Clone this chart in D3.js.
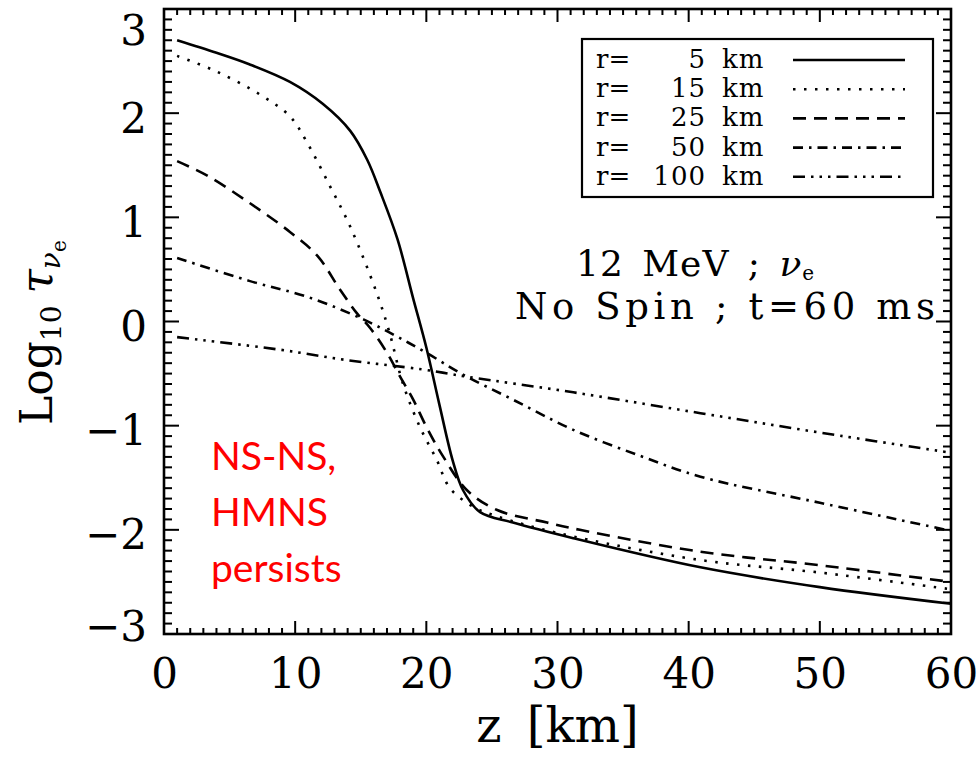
<!DOCTYPE html>
<html>
<head>
<meta charset="utf-8">
<script src="https://cdn.jsdelivr.net/npm/d3@7"></script>
<style>
  body { margin: 0; background: #fff; }
  svg { display: block; }
</style>
</head>
<body>
<div id="container"></div>
<script>
// optical depth curves (z in km, log10 tau)
const z5   = [1, 4, 6.5, 9.6, 12.1, 14.2, 15.5, 16.5, 17.8, 19.0, 20.0, 21.0, 22.0, 22.8, 24.1, 26.6, 31.2, 40.9, 50, 60];
const v5   = [2.70, 2.58, 2.47, 2.30, 2.09, 1.83, 1.55, 1.24, 0.79, 0.22, -0.25, -0.80, -1.33, -1.62, -1.83, -1.93, -2.08, -2.36, -2.55, -2.71];
const z15  = [1, 4, 7.3, 9.6, 10.9, 12.65, 14.2, 16.2, 17.2, 18.2, 19.5, 20.8, 21.8, 23.6, 25.4, 30, 40.9, 50, 60];
const v15  = [2.55, 2.40, 2.18, 1.97, 1.72, 1.30, 0.91, 0.28, -0.11, -0.59, -1.01, -1.33, -1.60, -1.78, -1.87, -2.03, -2.29, -2.41, -2.57];
const z25  = [1, 3.3, 6.5, 9.6, 11.7, 13.4, 14.7, 15.7, 17.0, 18.0, 19.0, 20.0, 21.3, 23.1, 25.4, 29.2, 31.7, 40.9, 50, 60];
const v25  = [1.54, 1.40, 1.14, 0.86, 0.63, 0.31, 0.08, -0.06, -0.30, -0.53, -0.75, -1.01, -1.30, -1.62, -1.81, -1.93, -2.00, -2.21, -2.34, -2.50];
const z50  = [1, 6.5, 11.1, 15.2, 17.7, 20.0, 22.8, 26.6, 31.2, 36.3, 40.9, 50, 60];
const v50  = [0.61, 0.39, 0.23, 0.02, -0.14, -0.30, -0.51, -0.75, -1.04, -1.29, -1.49, -1.74, -2.01];
const z100 = [1, 8.8, 13.9, 19.7, 23.1, 31.2, 40.9, 50.2, 60];
const v100 = [-0.15, -0.27, -0.37, -0.46, -0.53, -0.68, -0.88, -1.07, -1.26];

const radii = ["5", "15", "25", "50", "100"];
const dashes = [null, "2.5 8.5", "13 8", "10 6 2.5 6", "12 6 2.5 6 2.5 6 2.5 6"];

const xTicks = [0, 10, 20, 30, 40, 50, 60];
const yTicks = [-3, -2, -1, 0, 1, 2, 3];

const series = [
  {r: radii[0], z: z5, v: v5},
  {r: radii[1], z: z15, v: v15},
  {r: radii[2], z: z25, v: v25},
  {r: radii[3], z: z50, v: v50},
  {r: radii[4], z: z100, v: v100}
];
series.forEach((s, i) => {
  s.dash = dashes[i];
  s.points = s.z.map((z, j) => ({z: z, v: s.v[j]}));
});

let w = 979;
let h = 761;
let padL = 164, padR = 951, padT = 9, padB = 634;
const serif = "'DejaVu Serif', serif";

let viz = d3.select("#container")
  .append("svg")
  .attr("width", w)
  .attr("height", h);

let xScale = d3.scaleLinear().domain([0, 60]).range([padL, padR]);
let yScale = d3.scaleLinear().domain([-3, 3]).range([padB, padT]);

// curves
let curveGen = d3.line()
  .x(d => xScale(d.z))
  .y(d => yScale(d.v))
  .curve(d3.curveCatmullRom.alpha(0.5));

let graphGroup = viz.append("g").classed("graphGroup", true);
graphGroup.selectAll(".curve")
  .data(series)
  .enter()
  .append("path")
  .classed("curve", true)
  .attr("d", d => curveGen(d.points))
  .attr("fill", "none")
  .attr("stroke", "#000")
  .attr("stroke-width", 2.6)
  .attr("stroke-dasharray", d => d.dash);

// labels through d3 axes (their own lines dropped)
let xAxisGroup = viz.append("g").attr("transform", `translate(0,${padB})`)
  .call(d3.axisBottom(xScale).tickValues(xTicks).tickSize(0));
xAxisGroup.select(".domain").remove();
xAxisGroup.selectAll("line").remove();
xAxisGroup.selectAll("text")
  .attr("y", 54).attr("dy", 0)
  .attr("font-family", serif).attr("font-size", 42).attr("fill", "#000");

let yAxisGroup = viz.append("g").attr("transform", `translate(${padL},0)`)
  .call(d3.axisLeft(yScale).tickValues(yTicks).tickSize(0).tickPadding(17)
    .tickFormat(d => d < 0 ? "\u2212" + (-d) : d));
yAxisGroup.select(".domain").remove();
yAxisGroup.selectAll("line").remove();
yAxisGroup.selectAll("text")
  .attr("dy", d => d === 3 ? "0.85em" : d === -3 ? "0.15em" : "0.45em")
  .attr("font-family", serif).attr("font-size", 42).attr("fill", "#000");

// frame
viz.append("rect")
  .attr("x", padL).attr("y", padT)
  .attr("width", padR - padL).attr("height", padB - padT)
  .attr("fill", "none").attr("stroke", "#000").attr("stroke-width", 2.6);

// inward marks on all four sides: minor every 1 km / 0.1,
// drawn as small filled bars on top of everything
let xMarks = d3.range(0, 61, 1).map(d => ({v: d, len: d % 10 === 0 ? 13 : 6}));
let yMarks = d3.range(-30, 31, 1).map(d => ({v: d / 10, len: d % 10 === 0 ? 15 : 8}));

let marks = viz.append("g").classed("marks", true).attr("fill", "#000");
marks.selectAll(".mb").data(xMarks).enter().append("rect").classed("mb", true)
  .attr("x", d => xScale(d.v) - 1).attr("y", d => padB - d.len)
  .attr("width", 2).attr("height", d => d.len);
marks.selectAll(".mt").data(xMarks).enter().append("rect").classed("mt", true)
  .attr("x", d => xScale(d.v) - 1).attr("y", padT)
  .attr("width", 2).attr("height", d => d.len);
marks.selectAll(".ml").data(yMarks).enter().append("rect").classed("ml", true)
  .attr("x", padL).attr("y", d => yScale(d.v) - 1)
  .attr("width", d => d.len).attr("height", 2);
marks.selectAll(".mr").data(yMarks).enter().append("rect").classed("mr", true)
  .attr("x", d => padR - d.len).attr("y", d => yScale(d.v) - 1)
  .attr("width", d => d.len).attr("height", 2);

// axis titles
viz.append("text")
  .attr("x", xScale(30)).attr("y", 742)
  .attr("text-anchor", "middle")
  .attr("font-family", serif).attr("font-size", 48)
  .attr("word-spacing", 10)
  .text("z [km]");

let yTitle = viz.append("text")
  .attr("transform", "translate(52,425) rotate(-90)")
  .attr("font-family", serif).attr("font-size", 44);
yTitle.append("tspan").text("Log");
yTitle.append("tspan").attr("font-size", 28).attr("dy", 9).text("10");
yTitle.append("tspan").attr("dy", -9).attr("dx", 12).attr("font-style", "italic").text("\u03c4");
yTitle.append("tspan").attr("font-size", 28).attr("dy", 8).attr("font-style", "italic").text("\u03bd");
yTitle.append("tspan").attr("font-size", 20).attr("dy", 6).text("e");

// legend
let legend = viz.append("g").classed("legend", true);
legend.append("rect")
  .attr("x", 582).attr("y", 39).attr("width", 351).attr("height", 158)
  .attr("fill", "#fff").attr("stroke", "#000").attr("stroke-width", 2.2);
let rows = legend.selectAll(".row")
  .data(series)
  .enter()
  .append("g")
  .classed("row", true)
  .attr("transform", (d, i) => `translate(0,${60 + i * 29.2})`);
rows.append("text")
  .attr("x", 596).attr("y", 8)
  .attr("font-family", serif).attr("font-size", 26)
  .text("r=");
rows.append("text")
  .attr("x", 706).attr("y", 8).attr("text-anchor", "end")
  .attr("font-family", serif).attr("font-size", 26).attr("letter-spacing", 1)
  .text(d => d.r);
rows.append("text")
  .attr("x", 722).attr("y", 8)
  .attr("font-family", serif).attr("font-size", 26).attr("letter-spacing", 1)
  .text("km");
rows.append("line")
  .attr("x1", 793).attr("x2", 905).attr("y1", 0).attr("y2", 0)
  .attr("stroke", "#000").attr("stroke-width", 2.6)
  .attr("stroke-dasharray", d => d.dash);

// annotations
let ann1 = viz.append("text")
  .attr("x", 576).attr("y", 276)
  .attr("font-family", serif).attr("font-size", 36)
  .attr("letter-spacing", 1).attr("word-spacing", 6);
ann1.append("tspan").text("12 MeV ; ");
ann1.append("tspan").attr("font-style", "italic").text("\u03bd");
ann1.append("tspan").attr("font-size", 20).attr("dy", 4).text("e");

viz.append("text")
  .attr("x", 515).attr("y", 319)
  .attr("font-family", serif).attr("font-size", 37)
  .attr("textLength", 420).attr("lengthAdjust", "spacing")
  .text("No Spin ; t=60 ms");

let red = viz.append("text")
  .attr("font-family", "Lato, 'Open Sans', sans-serif").attr("font-size", 39)
  .attr("fill", "#ff0000");
["NS-NS,", "HMNS", "persists"].forEach((t, i) => {
  red.append("tspan").attr("x", 211).attr("y", 470 + i * 56).text(t);
});
</script>
</body>
</html>
